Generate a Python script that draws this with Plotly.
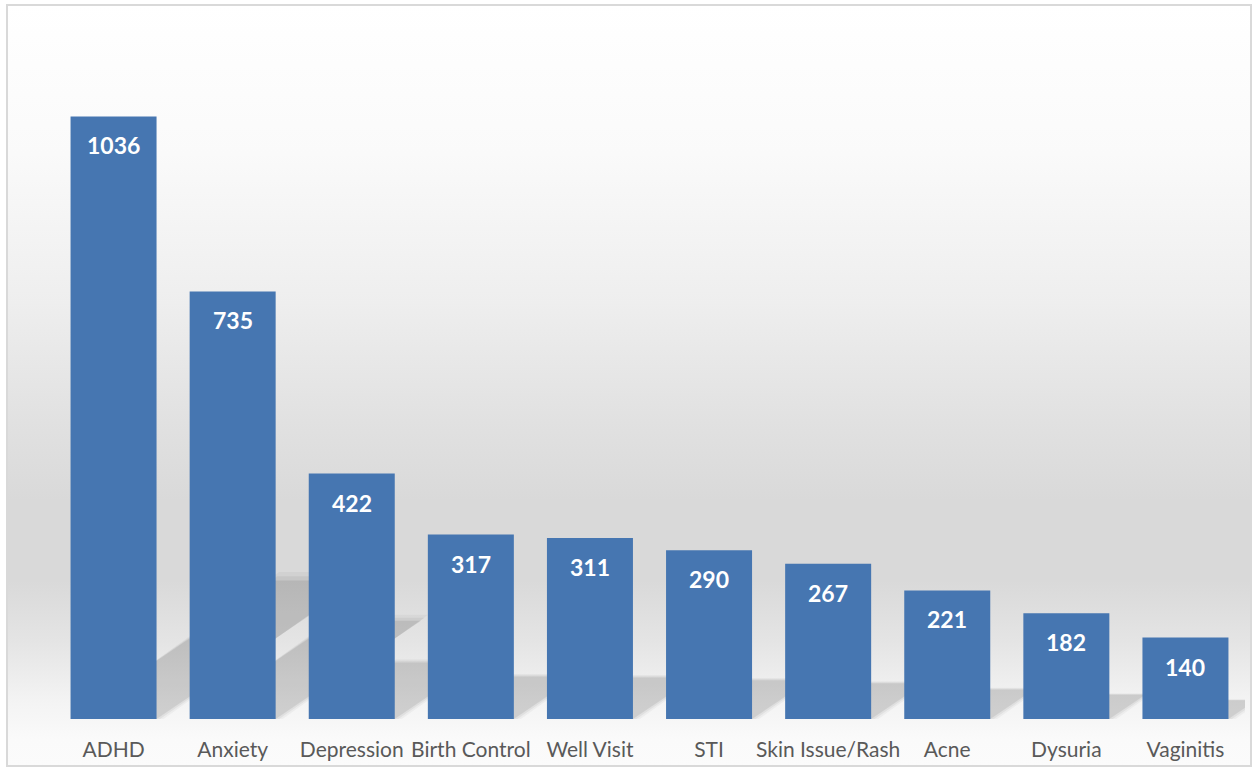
import base64
import plotly.graph_objects as go

categories = ["ADHD", "Anxiety", "Depression", "Birth Control", "Well Visit",
              "STI", "Skin Issue/Rash", "Acne", "Dysuria", "Vaginitis"]
counts = [1036, 735, 422, 317, 311, 290, 267, 221, 182, 140]

W, H = 1253, 768
ML, MR, MT, MB = 54, 8, 21, 49
PW, PH = W - ML - MR, H - MT - MB
YMAX = 1200
BARGAP = 0.278

def px_to_paper_x(px):
    return (px - ML) / PW

def px_to_paper_y(py):
    return (H - MB - py) / PH

# background gradient (white -> grey -> white)
stops = [(0, "#ffffff"), (150, "#fafafa"), (300, "#eeeeee"), (420, "#e1e1e1"),
         (500, "#d9d9d9"), (580, "#d9d9d9"), (640, "#e4e4e4"), (700, "#f3f3f3"),
         (740, "#fafafa"), (768, "#fbfbfb")]
stop_xml = "".join(f'<stop offset="{y / 768:.4f}" stop-color="{c}"/>' for y, c in stops)
svg = (f'<svg xmlns="http://www.w3.org/2000/svg" width="{W}" height="{H}" '
       f'viewBox="0 0 {W} {H}" preserveAspectRatio="none"><defs>'
       f'<linearGradient id="g" x1="0" y1="0" x2="0" y2="1">{stop_xml}</linearGradient>'
       f'</defs><rect x="0" y="0" width="{W}" height="{H}" fill="url(#g)"/></svg>')
bg_uri = "data:image/svg+xml;base64," + base64.b64encode(svg.encode()).decode()

fig = go.Figure()
fig.add_trace(go.Bar(
    x=categories, y=counts,
    marker=dict(color="#4676b1", line=dict(width=0)),
    hoverinfo="x+y",
))

for c, v in zip(categories, counts):
    fig.add_annotation(x=c, y=v, text=f"<b>{v}</b>", showarrow=False,
                       yanchor="middle", yshift=-29,
                       font=dict(family="Lato, Open Sans, sans-serif", size=23, color="white"))

# soft perspective shadows cast behind each bar (decorative)
px_per_unit_y = PH / YMAX
px_per_cat = PW / len(categories)
half = (1 - BARGAP) / 2
shapes = []
for i, v in enumerate(counts):
    hpx = v * px_per_unit_y
    dx = 0.34 * hpx / px_per_cat          # category units
    dy = 0.23 * v                          # value units
    for grow, alpha in [(0.06, 0.035), (0.03, 0.05), (0.0, 0.08)]:
        x0 = i - half + grow * 0.5
        x1 = i + half + grow
        path = (f"M {x0},0 L {x1},0 L {x1 + dx},{dy * (1 + grow)} "
                f"L {x0 + dx},{dy * (1 + grow)} Z")
        shapes.append(dict(type="path", xref="x", yref="y", path=path,
                           fillcolor=f"rgba(0,0,0,{alpha})", line=dict(width=0),
                           layer="below"))

shapes.append(dict(
    type="rect", xref="paper", yref="paper",
    x0=px_to_paper_x(7), x1=px_to_paper_x(1251),
    y0=px_to_paper_y(766), y1=px_to_paper_y(5),
    line=dict(color="#d9d9d9", width=2), fillcolor="rgba(0,0,0,0)",
    layer="above",
))

fig.update_layout(
    width=W, height=H,
    margin=dict(l=ML, r=MR, t=MT, b=MB),
    paper_bgcolor="white",
    plot_bgcolor="rgba(0,0,0,0)",
    bargap=BARGAP,
    showlegend=False,
    xaxis=dict(
        type="category", range=[-0.5, len(categories) - 0.5],
        showgrid=False, zeroline=False, showline=False, automargin=False,
        ticks="outside", ticklen=12, tickcolor="rgba(0,0,0,0)",
        tickfont=dict(family="Lato, Open Sans, sans-serif", size=21, color="#595959"),
    ),
    yaxis=dict(range=[0, YMAX], visible=False, automargin=False),
    images=[dict(
        source=bg_uri, xref="paper", yref="paper",
        x=px_to_paper_x(7), y=px_to_paper_y(5),
        sizex=(1251 - 7) / PW, sizey=(767 - 5) / PH,
        xanchor="left", yanchor="top", sizing="stretch", layer="below",
    )],
    shapes=shapes,
)

fig.write_html("out.html", config={"displayModeBar": False},
               post_script="document.body.style.margin='0';document.body.style.overflow='hidden';")
